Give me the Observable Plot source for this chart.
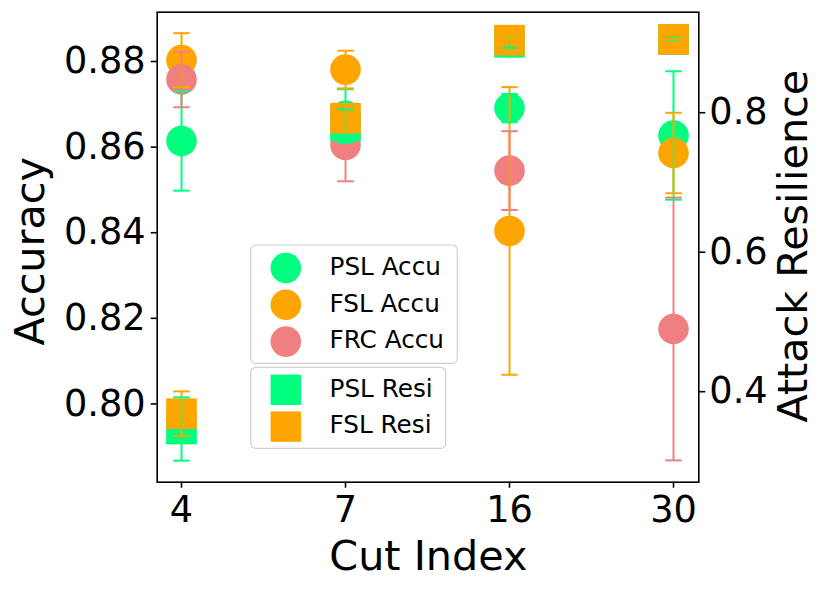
<!DOCTYPE html>
<html>
<head>
<meta charset="utf-8">
<script src="https://cdn.jsdelivr.net/npm/d3@7"></script>
<script src="https://cdn.jsdelivr.net/npm/@observablehq/plot@0.6"></script>
<style>
  html, body { margin: 0; padding: 0; background: #fff; }
  #wrap { position: relative; width: 831px; height: 590px; font-family: "DejaVu Sans", sans-serif; }
  #legend { position: absolute; left: 0; top: 0; pointer-events: none; }
</style>
</head>
<body>
<div id="wrap"></div>
<script>
// ---- data ----
const cuts = ["4", "7", "16", "30"];
const accTicks = [0.80, 0.82, 0.84, 0.86, 0.88];
const resTicks = [0.4, 0.6, 0.8];
const accDomain = [0.7809, 0.8907];
const resDomain = [0.2652, 0.9391];

const pslAcc    = [0.8606, 0.8665, 0.8683, 0.8619];
const pslAccErr = [0.0116, 0.0062, 0.0033, 0.0150];
const fslAcc    = [0.8795, 0.8773, 0.8396, 0.8578];
const fslAccErr = [0.0063, 0.0044, 0.0336, 0.0094];
const frcAcc    = [0.8750, 0.8597, 0.8537, 0.8167];
const frcAccErr = [0.0065, 0.0085, 0.0092, 0.0307];

const pslRes    = [0.3415, 0.7760, 0.8959, 0.8999];
const pslResErr = [0.0454, 0.0240, 0.0079, 0.0039];
const fslRes    = [0.3634, 0.7870, 0.8990, 0.9002];
const fslResErr = [0.0320, 0.0200, 0.0050, 0.0050];

const GREEN = "#00ff7f", ORANGE = "#ffa500", PINK = "#f08080";

const accSeries = [
  {name: "PSL Accu", color: GREEN,  values: pslAcc, errs: pslAccErr},
  {name: "FSL Accu", color: ORANGE, values: fslAcc, errs: fslAccErr},
  {name: "FRC Accu", color: PINK,   values: frcAcc, errs: frcAccErr}
];
const resSeries = [
  {name: "PSL Resi", color: GREEN,  values: pslRes, errs: pslResErr},
  {name: "FSL Resi", color: ORANGE, values: fslRes, errs: fslResErr}
];

// map resilience (right axis) into the accuracy scale's domain
const toAcc = d3.scaleLinear().domain(resDomain).range(accDomain);

const rows = (series, conv) => series.flatMap(s => cuts.map((c, i) => ({
  cut: c, series: s.name, color: s.color,
  v: conv(s.values[i]), lo: conv(s.values[i] - s.errs[i]), hi: conv(s.values[i] + s.errs[i])
})));
const accRows = rows(accSeries, v => v);
const resRows = rows(resSeries, toAcc);
const caps = rs => rs.flatMap(d => [{cut: d.cut, color: d.color, y: d.lo}, {cut: d.cut, color: d.color, y: d.hi}]);

const capSymbol = {draw(ctx) { ctx.moveTo(-8.3, 0); ctx.lineTo(8.3, 0); }};

const FS = 36.7, LFS = 41.3;

const chart = Plot.plot({
  width: 831, height: 590,
  marginLeft: 156.7, marginRight: 132.7, marginTop: 11.7, marginBottom: 108.3,
  style: {fontFamily: "DejaVu Sans", color: "black", background: "white"},
  x: {type: "point", domain: cuts, padding: 0.15},
  y: {domain: accDomain},
  color: {type: "identity"},
  marks: [
    Plot.dot(accRows, {x: "cut", y: "v", r: 15.3, fill: "color"}),
    Plot.ruleX(accRows, {x: "cut", y1: "lo", y2: "hi", stroke: "color", strokeWidth: 2}),
    Plot.dot(caps(accRows), {x: "cut", y: "y", symbol: capSymbol, r: 5, fill: "none", stroke: "color", strokeWidth: 2}),
    Plot.dot(resRows, {x: "cut", y: "v", symbol: "square", r: 17.3, fill: "color"}),
    Plot.ruleX(resRows, {x: "cut", y1: "lo", y2: "hi", stroke: "color", strokeWidth: 2}),
    Plot.dot(caps(resRows), {x: "cut", y: "y", symbol: capSymbol, r: 5, fill: "none", stroke: "color", strokeWidth: 2}),
    Plot.axisY(accTicks, {anchor: "left", tickFormat: d3.format(".2f"), tickSize: 6, tickPadding: 5.5, fontSize: FS, strokeWidth: 1.6, label: null, dy: 3.5}),
    Plot.axisY(resTicks.map(toAcc), {anchor: "right", tickFormat: d => d3.format(".1f")(toAcc.invert(d)), tickSize: 6, tickPadding: 4.5, fontSize: FS, strokeWidth: 1.6, label: null, dy: 3.5}),
    Plot.axisX({tickSize: 6, tickPadding: 7.5, fontSize: FS, strokeWidth: 1.6, label: null}),
    Plot.frame({stroke: "black", strokeWidth: 1.6}),
    Plot.text(["Accuracy"], {frameAnchor: "left", text: d => d, rotate: -90, textAnchor: "middle", lineAnchor: "middle", fontSize: LFS, dx: -126.6, dy: 4.1, fill: "black"}),
    Plot.text(["Attack Resilience"], {frameAnchor: "right", text: d => d, rotate: -90, textAnchor: "middle", lineAnchor: "middle", fontSize: LFS, dx: 95.2, dy: -1, fill: "black"}),
    Plot.text(["Cut Index"], {frameAnchor: "bottom", text: d => d, textAnchor: "middle", lineAnchor: "middle", fontSize: LFS, dy: 74.4, dx: 0.3, fill: "black"})
  ]
});

const wrap = document.getElementById("wrap");
wrap.appendChild(chart);

// ---- legend (overlay) ----
const ns = "http://www.w3.org/2000/svg";
const lg = document.createElementNS(ns, "svg");
lg.setAttribute("id", "legend");
lg.setAttribute("width", 831);
lg.setAttribute("height", 590);
const el = (tag, attrs, text) => {
  const e = document.createElementNS(ns, tag);
  for (const k in attrs) e.setAttribute(k, attrs[k]);
  if (text != null) e.textContent = text;
  lg.appendChild(e);
  return e;
};
const boxes = [
  {items: accSeries, kind: "circle", x: 250.7, y: 245, w: 206.6, h: 118.3, first: 268, text0: 275},
  {items: resSeries, kind: "square", x: 250.7, y: 367.3, w: 195, h: 81, first: 389.8, text0: 396.7}
];
const rowStep = 36.8;
for (const b of boxes) {
  el("rect", {x: b.x, y: b.y, width: b.w, height: b.h, rx: 5, ry: 5, fill: "white", "fill-opacity": 0.8, stroke: "#d0d0d0", "stroke-width": 1.2});
  b.items.forEach((s, i) => {
    const cy = b.first + i * rowStep;
    if (b.kind === "circle") el("circle", {cx: 285.8, cy, r: 15.3, fill: s.color});
    else el("rect", {x: 285.8 - 15.2, y: cy - 15.2, width: 30.4, height: 30.4, fill: s.color});
    el("text", {x: 329.5, y: b.text0 + i * (b.kind === "circle" ? 36.65 : 36.6), "font-family": "DejaVu Sans", "font-size": 24.7, fill: "black"}, s.name);
  });
}
wrap.appendChild(lg);
</script>
</body>
</html>
